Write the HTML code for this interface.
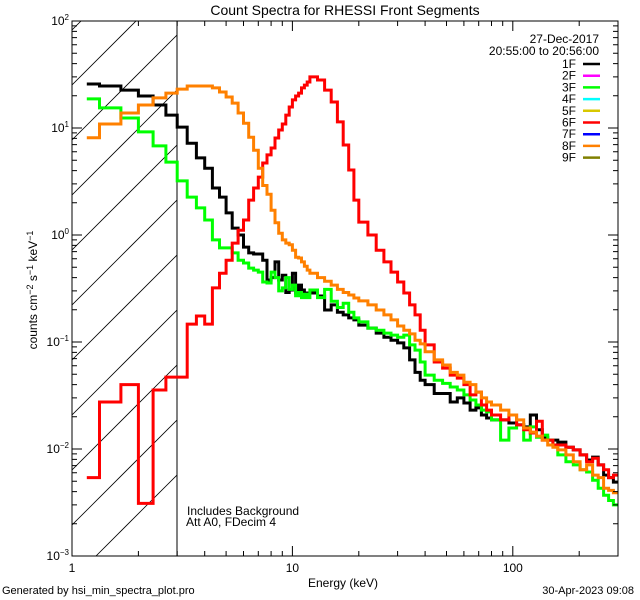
<!DOCTYPE html>
<html><head><meta charset="utf-8">
<style>
html,body{margin:0;padding:0;background:#fff;width:640px;height:600px;overflow:hidden;}
svg{display:block;font-family:"Liberation Sans",sans-serif;}
</style></head>
<body>
<svg id="chart" width="640" height="600" viewBox="0 0 640 600" xmlns="http://www.w3.org/2000/svg">
<defs><clipPath id="plotclip"><rect x="72" y="21" width="546" height="535"/></clipPath>
<clipPath id="hatchclip"><rect x="72" y="21" width="105" height="535"/></clipPath></defs>
<rect x="0" y="0" width="640" height="600" fill="#fff"/>
<text x="345" y="15" font-size="14" text-anchor="middle">Count Spectra for RHESSI Front Segments</text>
<g id="hatch" clip-path="url(#hatchclip)" stroke="#000" stroke-width="0.8"></g>
<line x1="177" y1="21" x2="177" y2="556" stroke="#000" stroke-width="1"/>
<g id="series" clip-path="url(#plotclip)" fill="none" stroke-width="3" stroke-linejoin="miter"></g>
<g id="axes" stroke="#000" stroke-width="1" fill="none"></g>
<g id="labels" font-size="12"></g>
<text x="599" y="43" font-size="12" text-anchor="end">27-Dec-2017</text>
<text x="599" y="55" font-size="12" text-anchor="end">20:55:00 to 20:56:00</text>
<g id="legend" font-size="12"></g>
<text x="187" y="515" font-size="12">Includes Background</text>
<text x="186" y="526" font-size="12">Att A0, FDecim 4</text>
<text x="343" y="587" font-size="12" text-anchor="middle">Energy (keV)</text>
<text transform="translate(37,290) rotate(-90)" font-size="12" text-anchor="middle">counts cm<tspan dy="-4" font-size="9">−2</tspan><tspan dy="4"> s</tspan><tspan dy="-4" font-size="9">−1</tspan><tspan dy="4"> keV</tspan><tspan dy="-4" font-size="9">−1</tspan></text>
<text x="2" y="594" font-size="11">Generated by hsi_min_spectra_plot.pro</text>
<text x="634" y="594" font-size="11" text-anchor="end">30-Apr-2023 09:08</text>
</svg>
<script>
const energyEdges = [1.167,1.333,1.667,2,2.333,2.667,3,3.333,3.667,4,4.333,4.667,5,5.333,5.667,6,6.333,6.667,7,7.333,7.667,8,8.333,8.667,9,9.333,9.667,10,10.333,10.667,11,11.333,11.667,12,13,14,15,16,17,18,19,20,22,24,26,28,30,32,34,36,38,40,44,48,52,56,60,64,68,72,76,80,88,96,104,112,120,128,136,144,152,160,174,188,202,216,230,244,258,272,286,300];
const seg1F = [25.8,24.7,22.6,19.9,16.4,13.2,
10.2,7.2,5.25,4.2,2.75,2.26,1.61,1.16,1.0,0.77,0.68,0.665,0.665,0.58,0.38,0.40,0.56,0.38,0.42,0.29,0.306,0.44,0.287,0.34,0.306,0.275,0.287,
0.287,0.269,0.199,0.222,0.19,0.179,0.168,0.161,
0.144,0.135,0.121,0.111,0.104,0.098,0.088,0.068,0.052,0.044,
0.040,0.033,0.033,0.0275,0.030,0.0269,0.0231,0.0242,0.0208,0.0195,
0.0187,0.0187,0.0175,0.0168,0.0161,0.0208,0.0151,0.0129,0.0121,0.0121,
0.0116,0.0104,0.0098,0.0088,0.0079,0.0084,0.0071,0.0057,0.0054,0.0049];
const seg3F = [18.7,15.4,12.4,9.2,6.8,4.8,
3.2,2.26,1.79,1.38,0.90,0.757,0.757,0.68,0.58,0.547,0.49,0.47,0.45,0.364,0.356,0.45,0.40,0.30,0.32,0.40,0.31,0.34,0.27,0.29,0.26,0.28,0.26,
0.306,0.26,0.31,0.24,0.21,0.23,0.19,0.168,
0.154,0.135,0.129,0.121,0.116,0.111,0.116,0.094,0.084,0.065,
0.049,0.044,0.041,0.038,0.0356,0.032,0.0287,0.0258,0.0231,0.0222,
0.0187,0.0121,0.0157,0.0168,0.0121,0.0161,0.0129,0.0135,0.0121,0.0109,
0.0088,0.0076,0.0071,0.0064,0.0061,0.0051,0.0043,0.0037,0.0033,0.0030];
const seg6F = [0.0054,0.0275,0.040,0.0031,0.0356,0.047,
0.047,0.147,0.175,0.147,0.32,0.44,0.58,0.84,1.11,1.38,2.12,2.75,3.48,4.71,5.6,6.5,8.07,9.57,10.9,13.2,15.7,18.3,19.9,21.2,23.7,25.2,26.9,
30.0,28.1,22.6,17.5,11.4,6.93,4.05,2.12,
1.32,1.0,0.72,0.56,0.45,0.364,0.287,0.222,0.179,0.129,
0.094,0.065,0.057,0.049,0.046,0.040,0.032,0.034,0.0258,0.0231,
0.0208,0.0187,0.0208,0.0168,0.0151,0.0141,0.0182,0.0121,0.0121,0.0109,
0.0109,0.0104,0.0098,0.0088,0.0076,0.0082,0.0071,0.0064,0.0054,0.0057];
const seg8F = [8.1,10.9,13.8,16.4,19.1,21.2,
23.1,24.7,24.7,24.7,23.7,21.7,19.5,17.1,13.8,11.1,8.2,6.2,4.2,2.9,2.4,1.7,1.3,1.04,0.90,0.84,0.81,0.72,0.62,0.61,0.56,0.51,0.47,
0.44,0.40,0.37,0.34,0.31,0.29,0.275,0.258,
0.242,0.222,0.199,0.179,0.161,0.141,0.129,0.119,0.104,0.096,
0.081,0.068,0.061,0.052,0.049,0.042,0.040,0.034,0.030,0.0275,
0.0258,0.0231,0.0208,0.0187,0.0157,0.0144,0.0132,0.0121,0.0109,0.0104,
0.0098,0.0088,0.0076,0.0064,0.0071,0.0057,0.0054,0.0043,0.0041,0.0039];
const legendLabels = ["1F","2F","3F","4F","5F","6F","7F","8F","9F"];
const legendColors = ["#000000","#ff00ff","#00ff00","#00ffff","#d8c800","#ff0000","#0000ff","#ff8000","#808000"];
const xTickLabels = ["1","10","100"];
const xTickValues = [1,10,100];
const yTickExps = [2,1,0,-1,-2,-3];

const NS = "http://www.w3.org/2000/svg";
const X0=72, X1=618, Y0=21, Y1=556;
const XMIN=1, XMAX=300, YMIN=-3, YMAX=2;
const xs = e => X0 + (Math.log10(e)-Math.log10(XMIN))/(Math.log10(XMAX)-Math.log10(XMIN))*(X1-X0);
const ys = v => Y0 + (YMAX-Math.log10(v))/(YMAX-YMIN)*(Y1-Y0);
function mk(tag, attrs, parent){const el=document.createElementNS(NS,tag);for(const k in attrs)el.setAttribute(k,attrs[k]);parent.appendChild(el);return el;}

const hatch=document.getElementById('hatch');
for(let y0=-165;y0<550;y0+=55){
  const l=mk('line',{x1:72,y1:y0+85,x2:177,y2:y0+85-105},hatch);
  
  
}

const series=document.getElementById('series');
const seriesList=[[seg1F,"#000000","series-1f"],[seg3F,"#00ff00","series-3f"],[seg6F,"#ff0000","series-6f"],[seg8F,"#ff8000","series-8f"]];
for(const [vals,col,name] of seriesList){
  let d="M"+xs(energyEdges[0]).toFixed(1)+" "+ys(vals[0]).toFixed(1);
  for(let i=0;i<vals.length;i++){
    if(i>0) d+=" V"+ys(vals[i]).toFixed(1);
    d+=" H"+xs(energyEdges[i+1]).toFixed(1);
  }
  const p=mk('path',{d:d,stroke:col},series);
  
  
}

const axes=document.getElementById('axes');
const box=mk('rect',{x:X0,y:Y0,width:X1-X0,height:Y1-Y0},axes);


let td="";
for(let dec=0;dec<3;dec++){
  for(let m=1;m<10;m++){
    const e=m*Math.pow(10,dec); if(e>XMAX) break;
    const x=xs(e).toFixed(1); const L=(m===1)?10:5;
    td+=`M${x} ${Y1}v${-L}M${x} ${Y0}v${L}`;
  }
}
for(let dec=-3;dec<=2;dec++){
  for(let m=1;m<10;m++){
    const v=m*Math.pow(10,dec); if(Math.log10(v)>YMAX+1e-9) break;
    const y=ys(v).toFixed(1); const L=(m===1)?10:5;
    td+=`M${X0} ${y}h${L}M${X1} ${y}h${-L}`;
  }
}
const ticks=mk('path',{d:td},axes);



const labels=document.getElementById('labels');
xTickLabels.forEach((t,i)=>{
  const el=mk('text',{x:xs(xTickValues[i]),y:Y1+16,'text-anchor':'middle'},labels);
  el.textContent=t;
  
  
});
yTickExps.forEach(ex=>{
  const el=mk('text',{x:X0-3,y:ys(Math.pow(10,ex))+4,'text-anchor':'end'},labels);
  
  
  const a=mk('tspan',{},el); a.textContent="10";
  const b=mk('tspan',{dy:-5,'font-size':8}, el); b.textContent=(ex<0?"−":"")+Math.abs(ex);
});

const legend=document.getElementById('legend');
legendLabels.forEach((lab,i)=>{
  const y=64+i*11.7;
  const t=mk('text',{x:576,y:y+4,'text-anchor':'end'},legend);
  t.textContent=lab;
  
  
  const l=mk('line',{x1:583,y1:y,x2:600,y2:y,stroke:legendColors[i],'stroke-width':2.5},legend);
  
  
});
</script>
</body></html>
